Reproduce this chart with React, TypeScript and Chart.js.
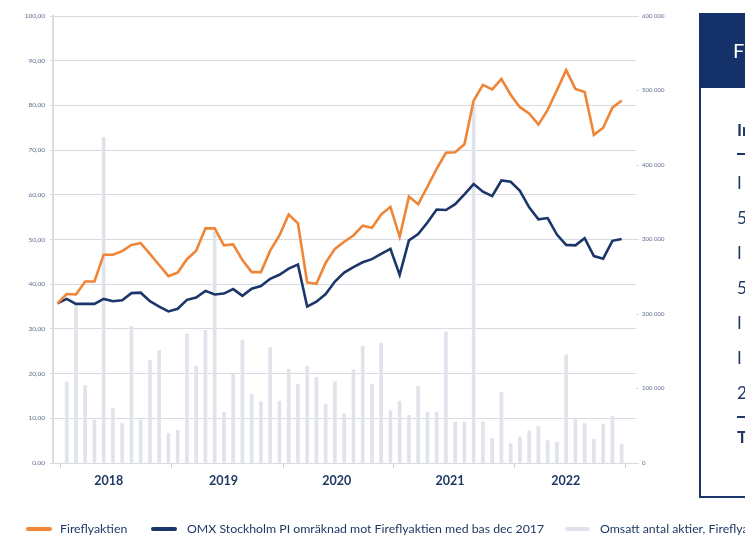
import React, { useEffect, useRef } from "react";
import { Chart, registerables } from "chart.js";

Chart.register(...registerables);

// Months, base dec 2017 (index 0) to jan 2023
const months = [
  "2017-12",
  "2018-01", "2018-02", "2018-03", "2018-04", "2018-05", "2018-06", "2018-07", "2018-08", "2018-09", "2018-10", "2018-11", "2018-12",
  "2019-01", "2019-02", "2019-03", "2019-04", "2019-05", "2019-06", "2019-07", "2019-08", "2019-09", "2019-10", "2019-11", "2019-12",
  "2020-01", "2020-02", "2020-03", "2020-04", "2020-05", "2020-06", "2020-07", "2020-08", "2020-09", "2020-10", "2020-11", "2020-12",
  "2021-01", "2021-02", "2021-03", "2021-04", "2021-05", "2021-06", "2021-07", "2021-08", "2021-09", "2021-10", "2021-11", "2021-12",
  "2022-01", "2022-02", "2022-03", "2022-04", "2022-05", "2022-06", "2022-07", "2022-08", "2022-09", "2022-10", "2022-11", "2022-12",
  "2023-01",
];

const fireflyaktien = [
  35.7, 37.8, 37.7, 40.6, 40.6, 46.6, 46.6, 47.4, 48.8, 49.2, 46.8, 44.3, 41.8,
  42.6, 45.6, 47.5, 52.5, 52.5, 48.7, 48.9, 45.4, 42.7, 42.7, 47.5, 50.9,
  55.6, 53.6, 40.4, 40.1, 44.8, 47.9, 49.5, 50.9, 53.1, 52.6, 55.6, 57.3,
  50.6, 59.6, 57.9, 61.8, 65.8, 69.4, 69.5, 71.3, 81.1, 84.6, 83.6, 85.9,
  82.4, 79.6, 78.2, 75.7, 79.0, 83.4, 87.9, 83.7, 83.0, 73.4, 75.0, 79.5,
  81.1,
];

const omxStockholmPI = [
  35.7, 36.7, 35.6, 35.6, 35.6, 36.7, 36.2, 36.4, 38.0, 38.1, 36.2, 35.0, 33.9,
  34.5, 36.5, 37.0, 38.5, 37.7, 37.9, 38.9, 37.4, 39.0, 39.6, 41.2, 42.1,
  43.5, 44.4, 35.0, 36.1, 37.8, 40.6, 42.6, 43.8, 44.9, 45.6, 46.8, 47.9,
  42.1, 49.8, 51.2, 53.8, 56.7, 56.6, 57.9, 60.1, 62.4, 60.7, 59.7, 63.2,
  62.9, 60.9, 57.2, 54.5, 54.8, 51.1, 48.8, 48.7, 50.3, 46.3, 45.7, 49.7,
  50.1,
];

const omsattAntalAktier = [
  null, 109000, 214000, 104000, 58000, 437000, 73000, 53000, 183000, 58000, 138000, 151000, 40000,
  44000, 173000, 130000, 178000, 310000, 68000, 119000, 165000, 92000, 82000, 155000, 83000,
  126000, 106000, 130000, 115000, 79000, 109000, 66000, 125000, 157000, 106000, 161000, 70000,
  83000, 64000, 103000, 68000, 68000, 176000, 55000, 55000, 483000, 55000, 33000, 95000,
  26000, 35000, 43000, 49000, 30000, 28000, 145000, 59000, 53000, 32000, 52000, 63000,
  25000,
];

const yearLabels = ["2018", "2019", "2020", "2021", "2022"];
const yearLabelPositions = [5.55, 17.95, 30.2, 42.45, 54.95];
const yearTickPositions = [0.35, 12.38, 24.39, 36.38, 49.46, 61.46];

const seriesNames = [
  "Fireflyaktien",
  "OMX Stockholm PI omräknad mot Fireflyaktien med bas dec 2017",
  "Omsatt antal aktier, Fireflyaktien",
];

const tableHeader = "Fi";
const tableRows = ["In", "I", "5", "I", "5", "I", "I", "2", "T"];

const ORANGE = "#EF8537";
const NAVY = "#1B3769";
const BAR = "#E1E3EB";
const GRID = "#D9DBE2";
const TEXT = "#1F3864";
const TICKTEXT = "#5D6B90";
const FONT = "Lato, 'Open Sans', sans-serif";

function fmtLeft(v: number) {
  return v.toFixed(2).replace(".", ",");
}
function fmtRight(v: number) {
  if (v === 0) return "0";
  const s = String(Math.round(v));
  return s.replace(/\B(?=(\d{3})+(?!\d))/g, " ");
}

function ChartCanvas() {
  const ref = useRef<HTMLCanvasElement | null>(null);
  useEffect(() => {
    if (!ref.current) return;
    const chart = new Chart(ref.current, {
      type: "bar",
      data: {
        labels: months,
        datasets: [
          {
            type: "line",
            label: seriesNames[0],
            data: fireflyaktien.map((v, i) => ({ x: i, y: v })),
            borderColor: ORANGE,
            backgroundColor: ORANGE,
            borderWidth: 2.6,
            pointRadius: 0,
            tension: 0,
            yAxisID: "y",
            xAxisID: "x",
            order: 1,
          } as any,
          {
            type: "line",
            label: seriesNames[1],
            data: omxStockholmPI.map((v, i) => ({ x: i, y: v })),
            borderColor: NAVY,
            backgroundColor: NAVY,
            borderWidth: 2.6,
            pointRadius: 0,
            tension: 0,
            yAxisID: "y",
            xAxisID: "x",
            order: 2,
          } as any,
          {
            type: "bar",
            label: seriesNames[2],
            data: omsattAntalAktier.map((v, i) => ({ x: i, y: v })),
            backgroundColor: BAR,
            borderWidth: 0,
            barThickness: 3,
            yAxisID: "y2",
            xAxisID: "x",
            order: 3,
          } as any,
        ],
      },
      options: {
        animation: false,
        responsive: false,
        devicePixelRatio: 1,
        layout: { padding: { left: 0, right: 69, top: 16, bottom: 38 } },
        plugins: { legend: { display: false }, tooltip: { enabled: false } },
        scales: {
          x: {
            type: "linear",
            position: "bottom",
            min: -0.48,
            max: 62.55,
            offset: false,
            bounds: "data",
            weight: 1,
            grid: { display: false, drawTicks: false, offset: false },
            border: { display: false },
            afterBuildTicks: (s: any) => {
              s.ticks = yearLabelPositions.map((v) => ({ value: v }));
            },
            afterFit: (s: any) => {
              s.height = 30;
            },
            ticks: {
              autoSkip: false,
              maxRotation: 0,
              padding: 5,
              color: TEXT,
              font: { family: FONT, size: 12.5, weight: "bold" },
              callback: (_v: any, i: number) => yearLabels[i],
            },
          } as any,
          xt: {
            type: "linear",
            position: "bottom",
            min: -0.48,
            max: 62.55,
            offset: false,
            bounds: "data",
            weight: 0,
            grid: {
              display: true,
              drawOnChartArea: false,
              drawTicks: true,
              tickLength: 5,
              offset: false,
              color: "#CDD0D8",
              lineWidth: 1,
            },
            border: { display: false },
            afterBuildTicks: (s: any) => {
              s.ticks = yearTickPositions.map((v) => ({ value: v }));
            },
            afterFit: (s: any) => {
              s.height = 5;
            },
            ticks: { display: false },
          } as any,
          y: {
            type: "linear",
            position: "left",
            min: 0,
            max: 100,
            afterFit: (s: any) => {
              s.width = 53;
            },
            ticks: {
              stepSize: 10,
              padding: 5,
              color: TICKTEXT,
              font: { family: FONT, size: 6.5 },
              callback: (v: any) => fmtLeft(Number(v)),
            },
            grid: {
              color: GRID,
              lineWidth: 1,
              tickLength: 3,
              tickColor: GRID,
            },
            border: { display: true, color: GRID, width: 2 },
          } as any,
          y2: {
            type: "linear",
            position: "right",
            min: 0,
            max: 600000,
            afterFit: (s: any) => {
              s.width = 40;
            },
            ticks: {
              stepSize: 100000,
              padding: 3,
              color: TICKTEXT,
              font: { family: FONT, size: 6 },
              callback: (v: any) => fmtRight(Number(v)),
            },
            grid: {
              drawOnChartArea: false,
              tickLength: 3,
              color: GRID,
              tickColor: GRID,
            },
            border: { display: false },
          } as any,
        },
      },
    });
    return () => chart.destroy();
  }, []);
  return (
    <canvas
      ref={ref}
      width={745}
      height={536}
      style={{ position: "absolute", left: 0, top: 0, width: 745, height: 536 }}
    />
  );
}

function LegendMarker({ left, color, width }: { left: number; color: string; width: number }) {
  return (
    <div
      style={{
        position: "absolute",
        left,
        top: 527,
        width,
        height: 4,
        borderRadius: 2,
        background: color,
      }}
    />
  );
}

function LegendText({ left, text }: { left: number; text: string }) {
  return (
    <div
      style={{
        position: "absolute",
        left,
        top: 521,
        fontFamily: FONT,
        fontSize: 12.3,
        lineHeight: "16px",
        color: TEXT,
        whiteSpace: "nowrap",
      }}
    >
      {text}
    </div>
  );
}

export default function App() {
  const rowTops = [130, 183, 218, 253, 288, 323, 358, 393, 437];
  return (
    <div
      style={{
        position: "fixed",
        left: 0,
        top: 0,
        width: 745,
        height: 536,
        overflow: "hidden",
        background: "#fff",
      }}
    >
      <ChartCanvas />
      <LegendMarker left={26} color={ORANGE} width={26} />
      <LegendText left={60} text={seriesNames[0]} />
      <LegendMarker left={151} color={NAVY} width={26} />
      <LegendText left={187} text={seriesNames[1]} />
      <LegendMarker left={565} color={BAR} width={25} />
      <LegendText left={600} text={seriesNames[2]} />

      {/* Side table (cropped) */}
      <div
        style={{
          position: "absolute",
          left: 699,
          top: 13,
          width: 120,
          height: 485,
          border: `2.5px solid ${NAVY}`,
          boxSizing: "border-box",
        }}
      />
      <div
        style={{
          position: "absolute",
          left: 699,
          top: 13,
          width: 120,
          height: 75,
          background: "#14316A",
        }}
      />
      <div
        style={{
          position: "absolute",
          left: 733,
          top: 37,
          fontFamily: FONT,
          fontSize: 20,
          lineHeight: "26px",
          color: "#fff",
          whiteSpace: "nowrap",
        }}
      >
        {tableHeader}
      </div>
      {tableRows.map((t, i) => (
        <div
          key={i}
          style={{
            position: "absolute",
            left: 737,
            top: rowTops[i] - 11,
            fontFamily: FONT,
            fontSize: 17,
            lineHeight: "22px",
            fontWeight: i === 0 || i === tableRows.length - 1 ? 700 : 400,
            color: TEXT,
            whiteSpace: "nowrap",
          }}
        >
          {t}
        </div>
      ))}
      <div style={{ position: "absolute", left: 737, top: 153, width: 20, height: 1.5, background: NAVY }} />
      <div style={{ position: "absolute", left: 737, top: 416, width: 20, height: 1.5, background: NAVY }} />
    </div>
  );
}
